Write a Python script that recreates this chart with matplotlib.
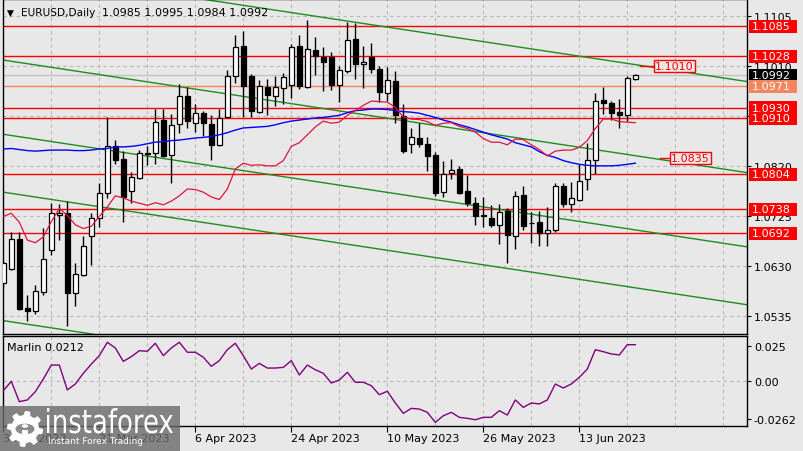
import numpy as np
import matplotlib
matplotlib.use('Agg')
import matplotlib.pyplot as plt
from matplotlib.patches import Rectangle, PathPatch, Polygon, Circle
from matplotlib.textpath import TextPath
from matplotlib.font_manager import FontProperties
from matplotlib.transforms import Affine2D, blended_transform_factory

# ---------------- data ----------------
opens = [1.0597, 1.0625, 1.0681, 1.0550, 1.0544, 1.0581, 1.0660, 1.0727, 1.0731, 1.0579,
         1.0613, 1.0686, 1.0721, 1.0769, 1.0858, 1.0833, 1.0773, 1.0797, 1.0843, 1.0844,
         1.0907, 1.0841, 1.0899, 1.0952, 1.0902, 1.0921, 1.0900, 1.0859, 1.0912, 1.0991,
         1.1047, 1.0990, 1.0923, 1.0969, 1.0953, 1.0967, 1.0973, 1.1047, 1.0969, 1.1040,
         1.1027, 1.1027, 1.0974, 1.1000, 1.1061, 1.1013, 1.1027, 1.1004, 1.0959, 1.0982,
         1.0915, 1.0862, 1.0873, 1.0862, 1.0840, 1.0771, 1.0807, 1.0814, 1.0772, 1.0750,
         1.0725, 1.0720, 1.0708, 1.0734, 1.0687, 1.0764, 1.0712, 1.0714, 1.0693, 1.0698,
         1.0781, 1.0748, 1.0755, 1.0795, 1.0831, 1.0945, 1.0940, 1.0923, 1.0917, 1.0985]
closes = [1.0635, 1.0681, 1.0548, 1.0544, 1.0583, 1.0644, 1.0730, 1.0731, 1.0578, 1.0614,
          1.0667, 1.0720, 1.0768, 1.0858, 1.0831, 1.0761, 1.0798, 1.0844, 1.0844, 1.0904,
          1.0839, 1.0897, 1.0953, 1.0905, 1.0921, 1.0902, 1.0860, 1.0910, 1.0990, 1.1045,
          1.0972, 1.0924, 1.0972, 1.0955, 1.0969, 1.0988, 1.1045, 1.0972, 1.1042, 1.1029,
          1.1018, 1.0973, 1.1002, 1.1059, 1.1013, 1.1018, 1.1004, 1.0961, 1.0983, 1.0916,
          1.0849, 1.0874, 1.0862, 1.0839, 1.0768, 1.0804, 1.0812, 1.0769, 1.0749, 1.0725,
          1.0726, 1.0708, 1.0733, 1.0689, 1.0762, 1.0706, 1.0712, 1.0693, 1.0698, 1.0782,
          1.0747, 1.0758, 1.0791, 1.0831, 1.0943, 1.0940, 1.0921, 1.0917, 1.0986, 1.0992]
highs = [1.0640, 1.0695, 1.0695, 1.0574, 1.0593, 1.0702, 1.0749, 1.0747, 1.0753, 1.0636,
         1.0686, 1.0731, 1.0787, 1.0912, 1.0869, 1.0849, 1.0809, 1.0850, 1.0858, 1.0928,
         1.0928, 1.0918, 1.0975, 1.0970, 1.0937, 1.0924, 1.0916, 1.0928, 1.1002, 1.1068,
         1.1076, 1.0994, 1.0983, 1.0985, 1.0990, 1.0997, 1.1051, 1.1068, 1.1097, 1.1064,
         1.1045, 1.1037, 1.1010, 1.1094, 1.1092, 1.1047, 1.1054, 1.1009, 1.1007, 1.1000,
         1.0937, 1.0892, 1.0902, 1.0874, 1.0847, 1.0830, 1.0833, 1.0820, 1.0802, 1.0761,
         1.0761, 1.0745, 1.0747, 1.0740, 1.0772, 1.0782, 1.0733, 1.0734, 1.0741, 1.0788,
         1.0787, 1.0790, 1.0823, 1.0864, 1.0959, 1.0969, 1.0943, 1.0947, 1.0991, 1.0995]
lows = [1.0590, 1.0622, 1.0546, 1.0525, 1.0538, 1.0575, 1.0651, 1.0679, 1.0516, 1.0553,
        1.0610, 1.0632, 1.0704, 1.0759, 1.0823, 1.0714, 1.0750, 1.0795, 1.0821, 1.0823,
        1.0836, 1.0788, 1.0883, 1.0891, 1.0885, 1.0877, 1.0831, 1.0858, 1.0911, 1.0977,
        1.0912, 1.0912, 1.0921, 1.0916, 1.0934, 1.0937, 1.0948, 1.0966, 1.0967, 1.0992,
        1.0962, 1.0964, 1.0942, 1.0997, 1.0985, 1.0967, 1.0997, 1.0942, 1.0944, 1.0901,
        1.0845, 1.0845, 1.0856, 1.0810, 1.0763, 1.0761, 1.0795, 1.0766, 1.0744, 1.0708,
        1.0703, 1.0704, 1.0671, 1.0635, 1.0663, 1.0698, 1.0674, 1.0668, 1.0668, 1.0695,
        1.0742, 1.0733, 1.0753, 1.0774, 1.0804, 1.0918, 1.0907, 1.0892, 1.0906, 1.0984]
red_ma = [1.0724, 1.0730, 1.0713, 1.0679, 1.0674, 1.0685, 1.0714, 1.0739, 1.0726, 1.0708,
          1.0701, 1.0705, 1.0724, 1.0742, 1.0763, 1.0759, 1.0753, 1.0749, 1.0745, 1.0750,
          1.0746, 1.0753, 1.0763, 1.0776, 1.0775, 1.0770, 1.0761, 1.0756, 1.0776, 1.0814,
          1.0825, 1.0821, 1.0822, 1.0820, 1.0820, 1.0830, 1.0857, 1.0864, 1.0879, 1.0894,
          1.0905, 1.0901, 1.0903, 1.0916, 1.0925, 1.0935, 1.0943, 1.0942, 1.0941, 1.0931,
          1.0913, 1.0909, 1.0908, 1.0904, 1.0897, 1.0901, 1.0902, 1.0895, 1.0891, 1.0884,
          1.0872, 1.0865, 1.0865, 1.0860, 1.0871, 1.0870, 1.0860, 1.0851, 1.0839, 1.0848,
          1.0850, 1.0850, 1.0855, 1.0868, 1.0891, 1.0909, 1.0909, 1.0904, 1.0903, 1.0902]
blue_ma = [1.0852, 1.0853, 1.0851, 1.0849, 1.0848, 1.0849, 1.0850, 1.0850, 1.0850, 1.0849,
           1.0849, 1.0850, 1.0852, 1.0853, 1.0856, 1.0856, 1.0857, 1.0859, 1.0862, 1.0865,
           1.0866, 1.0868, 1.0869, 1.0871, 1.0873, 1.0874, 1.0876, 1.0879, 1.0883, 1.0888,
           1.0892, 1.0893, 1.0894, 1.0895, 1.0898, 1.0902, 1.0905, 1.0907, 1.0909, 1.0911,
           1.0912, 1.0914, 1.0916, 1.0921, 1.0925, 1.0926, 1.0928, 1.0928, 1.0927, 1.0925,
           1.0923, 1.0922, 1.0920, 1.0916, 1.0912, 1.0907, 1.0903, 1.0898, 1.0894, 1.0889,
           1.0884, 1.0879, 1.0875, 1.0871, 1.0864, 1.0860, 1.0856, 1.0847, 1.0840, 1.0836,
           1.0830, 1.0826, 1.0823, 1.0821, 1.0820, 1.0820, 1.0820, 1.0821, 1.0823, 1.0825]
marlin = [-0.0066, 0.0000, -0.0143, -0.0131, -0.0073, 0.0016, 0.0114, 0.0114, -0.0061, -0.0019,
          0.0056, 0.0121, 0.0180, 0.0274, 0.0234, 0.0140, 0.0173, 0.0215, 0.0211, 0.0267,
          0.0180, 0.0234, 0.0274, 0.0204, 0.0204, 0.0169, 0.0105, 0.0145, 0.0222, 0.0267,
          0.0180, 0.0086, 0.0126, 0.0093, 0.0093, 0.0098, 0.0145, 0.0044, 0.0114, 0.0081,
          0.0056, -0.0012, 0.0009, 0.0063, -0.0007, -0.0007, -0.0031, -0.0094, -0.0070, -0.0152,
          -0.0225, -0.0190, -0.0195, -0.0218, -0.0288, -0.0242, -0.0218, -0.0253, -0.0260, -0.0270,
          -0.0253, -0.0253, -0.0206, -0.0237, -0.0131, -0.0183, -0.0152, -0.0159, -0.0131, -0.0019,
          -0.0047, -0.0019, 0.0028, 0.0086, 0.0222, 0.0208, 0.0192, 0.0185, 0.0257, 0.0257]

date_labels = ["3 Mar 2023", "21 Mar 2023", "6 Apr 2023", "24 Apr 2023",
               "10 May 2023", "26 May 2023", "13 Jun 2023"]
date_pos = [0, 12, 24, 36, 48, 60, 72]
price_ticks = [1.1105, 1.1010, 1.0915, 1.0820, 1.0725, 1.0630, 1.0535]
marlin_ticks = [0.025, 0.0, -0.0262]
marlin_tick_labels = ["0.025", "0.00", "-0.0262"]
red_levels = [1.1085, 1.1028, 1.0930, 1.0910, 1.0804, 1.0738, 1.0692]
orange_level = 1.0971
bid_price = 1.0992
# channel lines: price at bar 0 and at bar 80
channels = [(1.1194, 1.1010), (1.1021, 1.0837), (1.0880, 1.0696),
            (1.0770, 1.0586), (1.0526, 1.0342)]
chart_labels = [(83.86, 1.1010, 79.6, 81.3), (85.9, 1.0835, 82.1, 83.4)]
title_sym = "EURUSD,Daily"
title_ohlc = "1.0985 1.0995 1.0984 1.0992"
marlin_text = "Marlin 0.0212"

# ---------------- figure ----------------
W, H = 804, 452
BG = '#E8E8E8'
fig = plt.figure(figsize=(W / 100, H / 100), dpi=100, facecolor=BG)

def fx(px):
    return px / W

def fy(py):
    return 1 - py / H

L, R = 3, 747
main_top, main_bot = 0.0, 335.3
ind_top, ind_bot = 337.3, 427.3
ax = fig.add_axes([fx(L), fy(main_bot), (R - L) / W, (main_bot - main_top) / H])
ax2 = fig.add_axes([fx(L), fy(ind_bot), (R - L) / W, (ind_bot - ind_top) / H])
for a in (ax, ax2):
    a.set_facecolor(BG)
    for s in a.spines.values():
        s.set_color('black')
        s.set_linewidth(1.0)

xmin, xmax = -0.04, 92.96
ymin, ymax = 1.0500, 1.1137
ax.set_xlim(xmin, xmax)
ax.set_ylim(ymin, ymax)
ax2.set_xlim(xmin, xmax)
ax2.set_ylim(-0.0316, 0.0316)

ppu = (main_bot - main_top) / (ymax - ymin)   # pixels per price unit

grid_kw = dict(color='#B8B8B8', lw=0.8, linestyle=(0, (3, 3)), zorder=0.5)
n = len(opens)
for gx in range(6, 93, 6):
    ax.axvline(gx, **grid_kw)
    ax2.axvline(gx, **grid_kw)
for p in price_ticks:
    ax.axhline(p, **grid_kw)
ax2.axhline(0.0, **grid_kw)

# horizontal levels
ax.axhline(bid_price, color='#C4C4C4', lw=1, zorder=1)
for p in red_levels:
    ax.axhline(p, color='#FF0000', lw=1, zorder=1.2)
ax.axhline(orange_level, color='#F4865E', lw=1, zorder=1.2)

# channel lines
for p0, p80 in channels:
    ax.axline((0, p0), (80, p80), color='#1E8C1E', lw=1, zorder=1.5)

# candles
x = np.arange(n)
o = np.array(opens); c = np.array(closes); h = np.array(highs); l = np.array(lows)
ax.vlines(x, l, h, color='black', lw=1, zorder=3)
up = c >= o
bb = np.minimum(o, c)
bh = np.abs(c - o)
ax.bar(x[up], bh[up], 0.6, bottom=bb[up], facecolor='white', edgecolor='black', lw=0.9, zorder=4)
ax.bar(x[~up], bh[~up], 0.6, bottom=bb[~up], facecolor='black', edgecolor='black', lw=0.9, zorder=4)

# moving averages
ax.plot(x, blue_ma, color='#0000FF', lw=1, zorder=5)
ax.plot(x, red_ma, color='#E0143C', lw=0.9, zorder=5)

# chart price labels
for cx, p, s0, s1 in chart_labels:
    ax.plot([s0, s1], [p, p], color='#FF0000', lw=1, zorder=5)
    ax.text(cx, p, f"{p:.4f}", color='#FF0000', fontsize=8, ha='center', va='center', zorder=6,
            bbox=dict(boxstyle='square,pad=0.12', fc=BG, ec='#FF0000', lw=1))

# right axis
ax.yaxis.tick_right()
ax.set_yticks(price_ticks)
ax.set_yticklabels([f"{p:.4f}" for p in price_ticks])
ax.tick_params(axis='y', direction='out', length=3, labelsize=8, pad=2, colors='black')
ax.set_xticks([])

ax2.yaxis.tick_right()
ax2.set_yticks(marlin_ticks)
ax2.set_yticklabels(marlin_tick_labels)
ax2.tick_params(axis='y', direction='out', length=3, labelsize=8, pad=2)
ax2.set_xticks(date_pos)
ax2.set_xticklabels(date_labels, ha='left')
ax2.tick_params(axis='x', direction='out', length=4, labelsize=8, pad=1)

# price boxes on right
trans = blended_transform_factory(ax.transAxes, ax.transData)
boxes = [(1.1085, '#FF0000'), (1.1028, '#FF0000'), (bid_price, '#000000'),
         (orange_level, '#F4865E'), (1.0930, '#FF0000'), (1.0910, '#FF0000'),
         (1.0804, '#FF0000'), (1.0738, '#FF0000'), (1.0692, '#FF0000')]
for k, (p, col) in enumerate(boxes):
    ax.add_patch(Rectangle(((749 - L) / (R - L), p - 6.5 / ppu), 48 / (R - L), 13 / ppu,
                           transform=trans, facecolor=col, edgecolor='none',
                           clip_on=False, zorder=10 + 2 * k))
    ax.text((752 - L) / (R - L), p, f"{p:.4f}", transform=trans, color='white', fontsize=8,
            va='center', ha='left', clip_on=False, zorder=11 + 2 * k)

# indicator line
ax2.plot(x, marlin, color='#800080', lw=1, zorder=3)
ax2.text((7 - L) / (R - L), 1 - (348 - ind_top) / (ind_bot - ind_top), marlin_text,
         transform=ax2.transAxes, fontsize=8, va='center', ha='left', color='black')

# title
fig.text(fx(7), fy(13), "\u25BC", fontsize=6.5, va='center', ha='left', color='black')
fig.text(fx(21), fy(13), title_sym, fontsize=7.6, va='center', ha='left', color='black')
fig.text(fx(102), fy(13), title_ohlc, fontsize=8, va='center', ha='left', color='black')

# watermark
fig.patches.append(Rectangle((0, fy(452)), fx(180), (452 - 407.3) / H, transform=fig.transFigure,
                             facecolor='#6A6A6A', alpha=0.8, edgecolor='none', zorder=20))
tp = TextPath((0, 0), "instaforex", size=1, prop=FontProperties(family='DejaVu Sans'))
ext = tp.get_extents()
sx = 126 / ext.width
sy = 18 / 0.547
tr = Affine2D().translate(-ext.x0, 0).scale(sx / W, sy / H).translate(fx(47), fy(434)) + fig.transFigure
fig.patches.append(PathPatch(tp, transform=tr, facecolor='white', edgecolor='none', zorder=21))
fig.text(fx(48), fy(442), "Instant Forex Trading", fontsize=6.5, color='white',
         va='center', ha='left', zorder=22)
# gear logo
cxp, cyp = 25, 430
ang = np.linspace(0, 2 * np.pi, 65)[:-1]
rad = np.where((np.arange(64) // 4) % 2 == 0, 18, 14)
gear = np.column_stack([fx(cxp + rad * np.cos(ang)), fy(cyp + rad * np.sin(ang))])
fig.patches.append(Polygon(gear, closed=True, transform=fig.transFigure, facecolor='white',
                           edgecolor='none', zorder=21))
fig.patches.append(Circle((fx(cxp), fy(cyp)), 9.5 / W, transform=fig.transFigure,
                          facecolor='#8A8A8A', edgecolor='none', zorder=22))
fig.patches.append(Circle((fx(cxp), fy(cyp - 3)), 3.2 / W, transform=fig.transFigure,
                          facecolor='white', edgecolor='none', zorder=23))
fig.patches.append(Rectangle((fx(cxp - 3), fy(cyp + 9)), 6 / W, 8 / H, transform=fig.transFigure,
                             facecolor='white', edgecolor='none', zorder=23))

fig.savefig('out.png', dpi=100, facecolor=BG)
